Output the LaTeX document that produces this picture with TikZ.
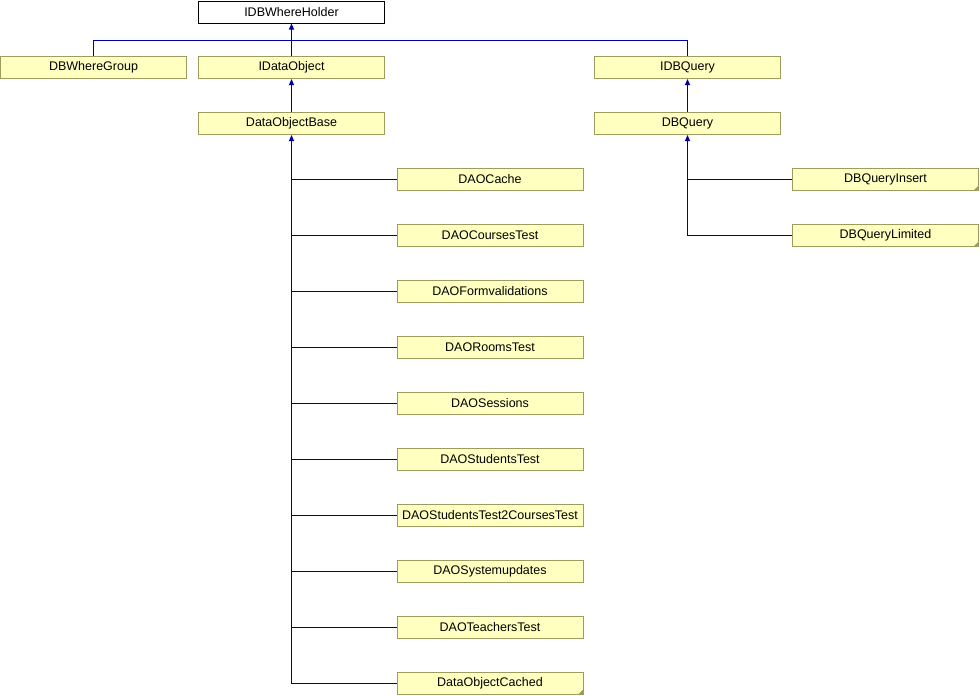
\documentclass[tikz,border=0pt]{standalone}
\usepackage{fontspec}
\setmainfont{Liberation Sans}
\usepackage{tikz}
\usetikzlibrary{positioning, calc, arrows.meta}

\definecolor{boxfill}{HTML}{FFFFC0}
\definecolor{boxline}{HTML}{9C9C60}
\definecolor{edgeblue}{HTML}{0000A0}

\tikzset{
	cls/.style={draw=boxline, fill=boxfill, line width=1pt, minimum width=186pt, minimum height=22pt, inner sep=0pt, font=\fontsize{12.5}{14}\selectfont},
	top/.style={cls, draw=black, fill=white},
	folded/.style={cls, path picture={\fill[boxline] (path picture bounding box.south east) -- ++(-5pt,0) -- ++(5pt,5pt) -- cycle;}},
	inh/.style={draw=edgeblue, line width=1pt, -{Triangle[length=6pt,width=5pt]}},
	link/.style={draw=edgeblue, line width=1pt}
}

\begin{document}
\begin{tikzpicture}[x=1pt, y=-1pt]
			\useasboundingbox (0,0) rectangle (980,696);
			
			\node [top] (holder) at (291.5, 12) {IDBWhereHolder};
			\node [cls] (wheregroup) at (93.5, 67.5) {DBWhereGroup};
			\node [cls] (idataobject) at (291.5, 67.5) {IDataObject};
			\node [cls] (idbquery) at (687.5, 67.5) {IDBQuery};
			\node [cls] (dobase) at (291.5, 123.5) {DataObjectBase};
			\node [cls] (dbquery) at (687.5, 123.5) {DBQuery};
			\node [folded] (qinsert) at (885.5, 179.5) {DBQueryInsert};
			\node [folded] (qlimited) at (885.5, 235.5) {DBQueryLimited};
			
			\foreach \k/\val in {0/DAOCache, 1/DAOCoursesTest, 2/DAOFormvalidations, 3/DAORoomsTest, 4/DAOSessions, 5/DAOStudentsTest, 6/DAOStudentsTest2CoursesTest, 7/DAOSystemupdates, 8/DAOTeachersTest}
			{
				\node [cls] (dao\k) at (490, 179.5+56*\k) {\val};
				\draw [link] (dao\k.west) -- (dobase.south |- dao\k.west);
			}
			\node [folded] (cached) at (490, 683.5) {DataObjectCached};
			
			\coordinate (bus) at (291.5, 40);
			\draw [link] (wheregroup.north) |- (bus);
			\draw [link] (idbquery.north) |- (bus);
			\draw [inh] (idataobject) -- (holder);
			\draw [inh] (dobase) -- (idataobject);
			\draw [inh] (dbquery) -- (idbquery);
			\draw [inh] (cached.west) -| (dobase.south);
			\draw [inh] (qlimited.west) -| (dbquery.south);
			\draw [link] (qinsert.west) -- (dbquery.south |- qinsert.west);
			\end{tikzpicture}
\end{document}
